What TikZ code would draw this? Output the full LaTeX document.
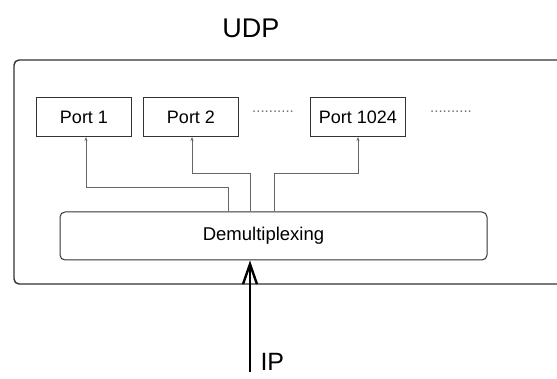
\documentclass[tikz,border=0pt]{standalone}
\usepackage{fontspec}
\setmainfont{Liberation Sans}
\usetikzlibrary{arrows.meta}
\begin{document}
\begin{tikzpicture}[x=1pt,y=-1pt,
  portbox/.style={draw=black!80,line width=1pt,minimum width=95pt,minimum height=39pt,inner sep=0pt,font=\fontsize{18}{20}\selectfont},
  conn/.style={draw=black!60,line width=0.8pt,-{Stealth[length=4pt,width=3pt]}},
  dotsl/.style={font=\fontsize{15}{17}\selectfont,text=black!55}]
\useasboundingbox (0,0) rectangle (557,379);
\clip (0,0) rectangle (557,379);
\fill[white] (0,0) rectangle (557,379);
\node[font=\fontsize{27}{30}\selectfont] (udp) at (251,28) {UDP};
\draw[line width=1.4pt,black!80,rounded corners=5pt] (14,60) rectangle (600,284);
\node[portbox] (p1) at (84,117) {Port 1};
\node[portbox] (p2) at (191,117) {Port 2};
\node[portbox] (p3) at (358,117) {Port 1024};
\node[dotsl] (d1) at (273,112) {..........};
\node[dotsl] (d2) at (451,112) {..........};
\node[draw=black!80,line width=1pt,rounded corners=5pt,minimum width=427pt,minimum height=48pt,inner sep=0pt,font=\fontsize{18.5}{20}\selectfont] (demux) at (273.5,236) {\hspace*{-20pt}Demultiplexing};
\draw[conn] (demux.north -| 228,0) |- (86,187) -- (p1.south -| 86,0);
\draw[conn] (demux.north -| 250,0) |- (192,173) -- (p2.south -| 192,0);
\draw[conn] (demux.north -| 274,0) |- (358,173) -- (p3.south);
\coordinate (ipbase) at (250,372);
\draw[line width=2.6pt,-{Straight Barb[length=20pt,width=14pt,line width=2.4pt]}] (ipbase) -- (demux.south -| ipbase);
\node[font=\fontsize{25}{27}\selectfont,anchor=west] (ip) at (257,362) {IP};
\end{tikzpicture}
\end{document}
